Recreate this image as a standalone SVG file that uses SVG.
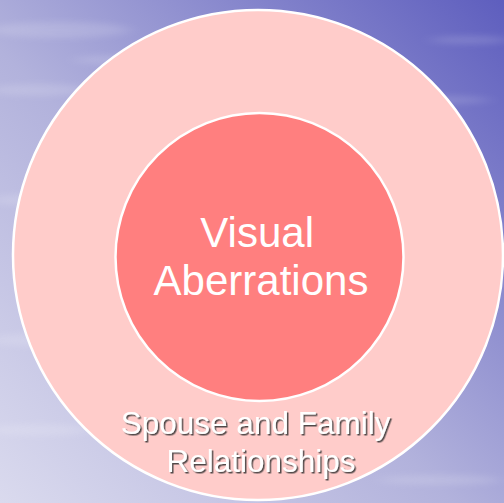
<svg xmlns="http://www.w3.org/2000/svg" width="504" height="503" viewBox="0 0 504 503">
  <defs>
    <linearGradient id="bg" x1="0" y1="1" x2="1" y2="0">
      <stop offset="0" stop-color="#DADAEE"/>
      <stop offset="0.45" stop-color="#B2B2DC"/>
      <stop offset="1" stop-color="#5E5EBE"/>
    </linearGradient>
    <filter id="blur" x="-20%" y="-50%" width="140%" height="200%">
      <feGaussianBlur stdDeviation="8 3"/>
    </filter>
    <filter id="shadow" x="-10%" y="-10%" width="120%" height="130%">
      <feDropShadow dx="1.5" dy="1.5" stdDeviation="0.4" flood-color="#333" flood-opacity="0.85"/>
    </filter>
    <style>
      .ring { stroke: #FFFFFF; stroke-width: 2.5; }
      .label { font-family: "Liberation Sans", Arial, sans-serif; fill: #FFFFFF; text-anchor: middle; }
    </style>
  </defs>
  <rect width="504" height="503" fill="url(#bg)"/>
  <g filter="url(#blur)" fill="#FFFFFF" opacity="0.14">
    <ellipse cx="60" cy="30" rx="70" ry="8"/>
    <ellipse cx="40" cy="90" rx="50" ry="6"/>
    <ellipse cx="120" cy="60" rx="45" ry="5"/>
    <ellipse cx="30" cy="200" rx="40" ry="6"/>
    <ellipse cx="50" cy="340" rx="60" ry="7"/>
    <ellipse cx="40" cy="430" rx="50" ry="6"/>
    <ellipse cx="440" cy="100" rx="50" ry="4"/>
    <ellipse cx="470" cy="40" rx="40" ry="4"/>
    <ellipse cx="440" cy="480" rx="60" ry="5"/>
  </g>
  <g id="outer">
    <circle class="ring" cx="258" cy="255" r="245" fill="#FFCCCA"/>
    <text class="label" font-size="31.5" filter="url(#shadow)">
      <tspan x="260" y="434">Spouse and Family</tspan>
      <tspan x="261" y="472">Relationships</tspan>
    </text>
  </g>
  <g id="inner">
    <circle class="ring" cx="259.5" cy="257" r="144" fill="#FF7F7F"/>
    <text class="label" font-size="42">
      <tspan x="263" y="247">Visual</tspan>
      <tspan x="261" y="295">Aberrations</tspan>
    </text>
  </g>
</svg>
